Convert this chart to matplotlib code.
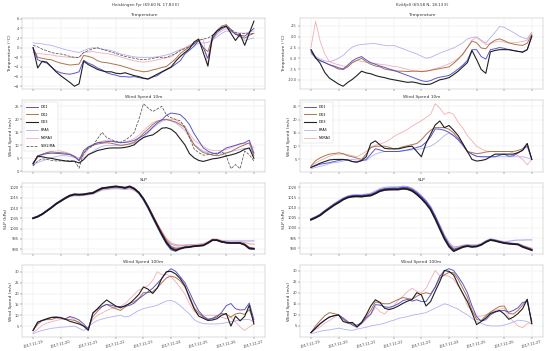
import pandas as pd
import matplotlib
matplotlib.use('Agg')
import matplotlib.pyplot as plt
import matplotlib.dates as mdates
from matplotlib.ticker import MultipleLocator, FormatStrFormatter

# 4-hourly time axis, 2017-11-19 00:00 to 2017-11-27 00:00
times = pd.date_range('2017-11-19', '2017-11-27', freq='4h')

station_names = ['Heiskingen Fyr (69.60 N, 17.83 E)', 'Kvitfjell (69.58 N, 18.13 E)']
panel_titles = ['Temperature', 'Wind Speed 10m', 'SLP', 'Wind Speed 100m']
y_labels = ['Temperature (°C)', 'Wind Speed (m/s)', 'SLP (hPa)', 'Wind Speed (m/s)']

# ---------------- Heiskingen Fyr ----------------
heis_temp_do1 = [0.0, -2.5, -2.9, -3.2, -4.0, -4.8,
                 -5.2, -5.4, -5.5, -5.3, -5.0, -2.6,
                 -3.2, -3.6, -4.2, -4.6, -5.2, -5.5,
                 -5.7, -6.0, -6.0, -6.1, -6.0, -6.2,
                 -6.4, -6.5, -6.1, -5.8, -5.1, -4.6,
                 -4.1, -3.4, -2.7, -1.3, -0.5, 0.3,
                 1.5, 0.0, -2.2, 1.8, 3.2, 3.9,
                 4.4, 3.6, 2.8, 2.6, 2.4, 3.2,
                 4.0]
heis_temp_do2 = [0.0, -2.0, -2.2, -2.4, -2.5, -2.9,
                 -3.2, -3.4, -3.6, -3.5, -3.4, -1.6,
                 -1.8, -2.1, -2.7, -3.0, -3.1, -3.3,
                 -3.5, -3.7, -4.0, -4.3, -4.6, -4.8,
                 -5.0, -4.9, -4.6, -4.4, -4.1, -3.9,
                 -3.1, -2.3, -1.2, -0.5, 0.2, 0.9,
                 1.5, 0.0, -0.8, 2.0, 3.6, 4.5,
                 4.8, 3.8, 2.8, 2.3, 2.0, 2.6,
                 3.0]
heis_temp_do3 = [0.0, -4.2, -2.8, -3.0, -4.0, -5.0,
                 -5.8, -6.5, -7.2, -8.0, -7.5, -2.8,
                 -3.5, -4.0, -4.5, -4.8, -5.0, -5.0,
                 -5.3, -5.4, -5.2, -5.5, -5.8, -6.0,
                 -6.3, -6.5, -6.0, -5.5, -5.0, -4.5,
                 -4.0, -2.8, -1.8, -1.0, -0.2, 1.2,
                 1.8, -1.0, -3.8, 2.5, 3.5, 4.2,
                 4.5, 3.0, 1.5, 2.8, 0.5, 3.0,
                 5.5]
heis_temp_era5 = [1.0, 0.9, 0.8, 0.6, 0.5, 0.2,
                  -0.1, -0.4, -0.6, -0.8, -1.0, -0.6,
                  -0.2, 0.0, -0.1, -0.3, -0.4, -0.6,
                  -0.9, -1.3, -1.5, -1.7, -1.9, -2.0,
                  -2.0, -2.0, -2.0, -1.9, -1.7, -1.5,
                  -1.2, -0.8, -0.4, -0.1, 0.3, 0.5,
                  0.9, 1.0, 1.1, 1.6, 2.3, 3.0,
                  3.5, 3.3, 3.1, 2.5, 1.5, 1.8,
                  2.0]
heis_temp_nora3 = [-1.0, -1.2, -1.3, -1.4, -1.5, -1.7,
                   -1.8, -1.9, -2.0, -2.0, -2.0, -1.0,
                   -0.9, -0.8, -1.0, -1.1, -1.2, -1.4,
                   -1.6, -1.9, -2.2, -2.5, -2.7, -2.9,
                   -3.0, -2.9, -2.7, -2.5, -2.3, -2.1,
                   -1.9, -1.2, -0.4, 0.0, 0.6, 1.0,
                   1.6, 1.8, -3.9, 1.6, 2.8, 3.5,
                   4.0, 3.4, 3.0, 3.1, 3.0, 3.3,
                   3.5]
heis_temp_seklima = [0.5, 0.2, -0.3, -0.6, -1.0, -1.2,
                     -1.3, -1.5, -1.8, -2.0, -2.0, -1.0,
                     -0.6, -0.2, 0.0, -0.3, -0.6, -0.9,
                     -1.2, -1.5, -1.8, -2.0, -2.2, -2.4,
                     -2.5, -2.4, -2.2, -2.0, -2.0, -2.0,
                     -1.6, -1.2, -0.6, -0.2, 0.2, 0.8,
                     1.5, 1.8, 2.0, 2.6, 3.5, 4.2,
                     4.5, 3.8, 3.2, 2.9, 3.0, 2.8,
                     3.0]

heis_ws10_do1 = [2.5, 6.0, 6.5, 6.8, 7.0, 6.9,
                 6.8, 6.6, 6.5, 5.6, 4.2, 8.0,
                 9.4, 10.2, 11.0, 11.2, 11.4, 11.6,
                 11.3, 11.0, 11.1, 11.4, 11.9, 12.8,
                 13.8, 15.2, 17.0, 18.6, 19.8, 21.6,
                 22.4, 22.2, 21.8, 20.2, 18.0, 14.5,
                 11.8, 9.0, 7.8, 7.0, 6.6, 7.8,
                 9.0, 9.5, 10.0, 10.6, 11.0, 12.0,
                 7.0]
heis_ws10_do2 = [3.0, 5.8, 6.6, 7.2, 7.5, 7.3,
                 7.2, 7.0, 6.5, 5.8, 4.0, 7.0,
                 9.2, 10.0, 10.5, 10.8, 11.0, 10.8,
                 10.4, 10.0, 10.2, 10.6, 11.2, 12.8,
                 14.6, 16.2, 18.0, 19.2, 19.8, 20.0,
                 19.5, 19.0, 18.0, 16.8, 13.5, 10.2,
                 8.5, 7.2, 6.8, 6.2, 6.0, 6.4,
                 7.0, 7.6, 8.6, 9.5, 10.2, 11.0,
                 6.0]
heis_ws10_do3 = [3.0, 5.8, 5.6, 5.2, 5.0, 4.6,
                 4.3, 4.0, 3.8, 3.9, 3.2, 4.5,
                 6.4, 7.2, 8.0, 8.4, 8.8, 9.0,
                 9.0, 9.0, 9.2, 9.6, 10.2, 11.8,
                 13.0, 13.6, 14.0, 15.2, 16.6, 16.8,
                 16.2, 14.8, 12.5, 10.2, 6.8, 5.2,
                 4.2, 3.8, 4.3, 4.8, 5.0, 5.4,
                 5.9, 6.3, 6.8, 7.5, 8.5, 9.0,
                 5.0]
heis_ws10_era5 = [2.5, 3.4, 4.0, 4.6, 5.2, 5.7,
                  6.0, 6.0, 5.8, 5.3, 5.0, 5.2,
                  6.4, 7.6, 8.8, 9.6, 10.0, 10.0,
                  10.0, 10.0, 10.2, 10.4, 10.8, 11.8,
                  13.0, 14.8, 16.6, 18.0, 19.2, 19.8,
                  19.4, 18.6, 17.2, 15.8, 13.0, 10.4,
                  9.0, 7.8, 7.2, 7.0, 7.0, 7.0,
                  7.2, 7.6, 8.0, 8.4, 8.8, 8.6,
                  7.0]
heis_ws10_nora3 = [3.5, 5.0, 6.2, 7.2, 7.8, 8.0,
                   7.8, 7.4, 6.8, 5.8, 5.2, 6.0,
                   8.6, 10.2, 11.0, 11.6, 12.0, 11.6,
                   11.2, 11.0, 11.4, 11.8, 12.6, 13.8,
                   15.6, 17.2, 18.8, 19.4, 19.8, 20.0,
                   20.0, 19.8, 18.6, 17.4, 14.5, 12.0,
                   10.8, 9.6, 8.6, 8.0, 8.0, 8.0,
                   8.4, 9.0, 9.8, 10.4, 10.8, 10.6,
                   9.0]
heis_ws10_seklima = [2.0, 4.0, 4.8, 4.6, 4.2, 4.0,
                     4.0, 4.0, 4.1, 4.0, 1.2, 7.0,
                     8.8, 9.8, 12.5, 15.0, 13.0, 12.2,
                     11.6, 11.2, 12.0, 13.2, 15.0, 20.0,
                     26.0, 24.4, 23.0, 24.0, 25.0, 21.6,
                     20.6, 20.0, 19.4, 17.0, 13.0, 8.6,
                     7.2, 6.2, 6.4, 6.6, 7.0, 7.6,
                     6.0, 1.0, 2.6, 1.0, 7.8, 6.4,
                     4.0]

heis_slp_do1 = [1005.2, 1006.0, 1007.2, 1008.8, 1010.4, 1012.2,
                1013.6, 1015.0, 1016.2, 1016.8, 1016.6, 1016.8,
                1017.2, 1017.5, 1018.7, 1019.8, 1020.0, 1020.4,
                1020.6, 1020.3, 1020.0, 1020.6, 1019.6, 1017.2,
                1014.0, 1010.0, 1005.4, 1001.0, 996.6, 992.6,
                989.8, 989.0, 990.4, 991.0, 991.2, 991.5,
                991.7, 991.9, 993.1, 994.5, 994.3, 993.5,
                993.1, 992.9, 993.0, 992.9, 992.0, 990.2,
                990.0]
heis_slp_do2 = [1005.0, 1005.7, 1006.9, 1008.5, 1010.1, 1011.9,
                1013.3, 1014.7, 1015.9, 1016.5, 1016.4, 1016.5,
                1016.9, 1017.2, 1018.4, 1019.4, 1019.8, 1020.0,
                1020.3, 1020.0, 1019.6, 1020.2, 1019.2, 1017.4,
                1014.6, 1010.8, 1006.4, 1002.0, 997.8, 994.0,
                991.2, 990.4, 990.6, 991.0, 991.2, 991.5,
                991.7, 991.9, 993.0, 994.3, 994.3, 993.5,
                993.2, 993.0, 993.0, 993.0, 992.4, 990.8,
                990.4]
heis_slp_do3 = [1005.0, 1005.8, 1007.0, 1008.6, 1010.2, 1012.0,
                1013.4, 1014.8, 1016.0, 1016.6, 1016.5, 1016.6,
                1017.0, 1017.3, 1018.5, 1019.6, 1019.9, 1020.2,
                1020.5, 1020.2, 1019.8, 1020.5, 1019.4, 1017.6,
                1014.5, 1010.5, 1006.0, 1001.5, 997.2, 993.2,
                990.5, 989.5, 990.2, 990.8, 991.0, 991.4,
                991.6, 991.8, 993.0, 994.4, 994.4, 993.6,
                993.2, 993.0, 993.0, 993.0, 992.2, 990.4,
                990.2]
heis_slp_era5 = [1005.0, 1005.8, 1007.0, 1008.6, 1010.2, 1011.8,
                 1013.2, 1014.5, 1015.6, 1016.0, 1016.0, 1016.2,
                 1016.5, 1016.8, 1017.8, 1018.8, 1019.0, 1019.3,
                 1019.5, 1019.3, 1019.0, 1019.4, 1018.6, 1017.0,
                 1014.2, 1010.6, 1006.4, 1002.2, 998.2, 994.6,
                 992.4, 991.6, 991.6, 991.8, 992.0, 992.0,
                 992.2, 992.4, 993.4, 994.6, 994.6, 994.2,
                 994.0, 994.0, 994.0, 994.0, 994.0, 994.0,
                 994.0]
heis_slp_nora3 = [1005.0, 1005.9, 1007.1, 1008.7, 1010.3, 1012.0,
                  1013.4, 1014.7, 1015.8, 1016.3, 1016.2, 1016.4,
                  1016.8, 1017.1, 1018.2, 1019.2, 1019.5, 1019.8,
                  1020.0, 1019.8, 1019.5, 1019.9, 1019.0, 1017.2,
                  1014.4, 1010.8, 1006.6, 1002.4, 998.6, 995.2,
                  993.0, 992.2, 992.0, 992.0, 992.2, 992.2,
                  992.4, 992.6, 993.6, 995.0, 994.8, 994.0,
                  993.6, 993.4, 993.4, 993.6, 993.2, 992.6,
                  992.4]

heis_ws100_do1 = [3.0, 6.8, 7.6, 8.2, 9.0, 9.3,
                  9.0, 8.3, 9.4, 8.8, 7.8, 6.0,
                  3.5, 11.0, 12.8, 14.0, 15.0, 14.6,
                  14.0, 14.0, 14.0, 14.6, 15.6, 17.6,
                  19.2, 20.8, 22.4, 24.6, 27.0, 29.8,
                  31.4, 30.2, 27.6, 25.0, 20.6, 16.0,
                  12.0, 9.6, 8.2, 8.4, 9.2, 11.4,
                  14.4, 15.4, 13.0, 12.4, 12.6, 15.6,
                  8.0]
heis_ws100_do2 = [3.0, 5.8, 7.6, 8.0, 8.0, 8.8,
                  8.8, 8.0, 8.0, 7.6, 6.8, 5.0,
                  4.0, 9.4, 11.8, 14.0, 15.0, 13.8,
                  13.0, 12.2, 13.8, 15.6, 16.2, 17.8,
                  20.4, 20.4, 20.8, 22.6, 25.0, 27.2,
                  28.0, 27.4, 25.8, 23.0, 18.8, 13.6,
                  11.0, 9.0, 8.0, 8.6, 9.8, 10.8,
                  10.4, 9.2, 10.6, 11.0, 10.4, 12.6,
                  7.0]
heis_ws100_do3 = [3.0, 6.8, 7.6, 8.4, 9.0, 9.0,
                  8.8, 8.2, 7.2, 6.6, 6.0, 5.0,
                  3.0, 11.0, 13.0, 15.2, 17.0, 15.6,
                  14.2, 13.4, 14.4, 15.4, 17.4, 19.6,
                  23.0, 22.0, 20.0, 22.5, 27.0, 30.0,
                  30.2, 29.0, 26.8, 23.6, 18.0, 13.0,
                  9.6, 8.6, 7.6, 7.8, 8.4, 10.0,
                  10.8, 5.0, 9.6, 7.4, 9.5, 14.6,
                  6.0]
heis_ws100_era5 = [1.5, 2.4, 3.0, 3.5, 4.0, 4.2,
                   4.5, 4.6, 4.8, 5.0, 4.0, 3.0,
                   4.6, 6.4, 7.6, 8.2, 8.8, 9.2,
                   9.6, 10.0, 9.2, 9.6, 11.0, 12.2,
                   13.0, 13.6, 14.0, 14.6, 15.6, 16.6,
                   16.8, 16.0, 14.4, 12.4, 10.6, 8.0,
                   6.8, 6.2, 6.0, 6.0, 6.0, 6.2,
                   6.6, 7.0, 7.4, 7.8, 8.0, 8.0,
                   7.0]
heis_ws100_nora3 = [2.0, 3.6, 5.4, 6.4, 7.0, 7.6,
                    8.0, 8.4, 9.0, 8.0, 6.4, 5.0,
                    4.2, 8.0, 10.0, 11.0, 12.2, 13.0,
                    13.6, 14.0, 15.4, 17.4, 19.6, 21.6,
                    22.6, 23.6, 26.0, 30.0, 28.6, 28.8,
                    27.6, 25.4, 22.6, 19.8, 15.2, 11.8,
                    10.4, 10.0, 10.0, 10.0, 10.0, 9.0,
                    8.4, 9.0, 7.0, 4.6, 3.0, 4.6,
                    6.0]

# ---------------- Kvitfjell ----------------
kvit_temp_do1 = [-3.5, -5.0, -5.6, -6.0, -6.5, -6.8,
                 -7.2, -7.5, -6.6, -5.6, -5.0, -4.6,
                 -5.4, -6.0, -6.4, -6.8, -7.1, -7.5,
                 -7.8, -8.2, -8.6, -9.0, -9.4, -9.8,
                 -10.2, -10.4, -10.2, -9.7, -9.4, -9.2,
                 -9.0, -8.3, -7.5, -6.6, -5.5, -3.0,
                 -3.0, -4.6, -5.2, -3.0, -2.8, -2.5,
                 -2.7, -3.0, -3.2, -3.4, -3.5, -3.0,
                 0.0]
kvit_temp_do2 = [-3.0, -5.0, -5.5, -6.0, -6.5, -7.0,
                 -7.5, -7.6, -7.0, -6.0, -5.5, -5.0,
                 -5.8, -6.4, -6.8, -7.0, -7.5, -7.7,
                 -7.9, -8.0, -8.0, -8.1, -8.0, -8.0,
                 -8.1, -8.0, -7.8, -7.6, -7.4, -7.2,
                 -7.0, -6.2, -5.2, -4.0, -2.5, -1.0,
                 -1.4, -2.6, -2.8, -1.5, -0.8, -0.5,
                 -0.9, -1.4, -1.7, -1.9, -2.0, -1.5,
                 0.5]
kvit_temp_do3 = [-3.0, -4.8, -6.2, -8.3, -9.6, -10.3,
                 -11.0, -11.5, -10.6, -9.9, -9.0, -8.0,
                 -8.4, -8.6, -9.0, -9.3, -9.5, -9.8,
                 -10.0, -10.2, -10.4, -10.6, -10.5, -10.7,
                 -11.0, -11.1, -11.0, -10.5, -10.0, -9.8,
                 -9.5, -8.8, -8.0, -7.0, -6.0, -3.2,
                 -5.3, -7.6, -8.5, -3.5, -3.2, -3.0,
                 -3.0, -3.0, -3.2, -3.4, -3.6, -3.0,
                 0.2]
kvit_temp_era5 = [-4.0, -4.6, -5.2, -5.6, -5.8, -5.5,
                  -5.0, -4.3, -3.3, -2.4, -2.0, -1.8,
                  -1.7, -1.6, -1.6, -1.8, -2.0, -2.1,
                  -2.0, -2.4, -2.8, -3.2, -3.6, -4.0,
                  -4.5, -5.0, -4.8, -4.3, -3.8, -3.4,
                  -3.0, -2.6, -2.0, -1.4, -0.5, -0.2,
                  0.0, -0.8, -1.5, -0.2, 1.0, 2.4,
                  2.2, 1.6, 1.0, 0.3, -0.2, -0.5,
                  1.0]
kvit_temp_nora3 = [-2.5, 3.6, -1.0, -4.0, -5.8, -6.2,
                   -6.5, -6.8, -7.0, -6.0, -5.5, -5.7,
                   -5.9, -6.1, -6.2, -6.4, -6.5, -6.7,
                   -6.9, -7.0, -7.3, -7.6, -7.9, -8.0,
                   -8.0, -8.0, -7.8, -7.4, -7.1, -6.7,
                   -6.3, -5.8, -5.0, -4.2, -2.5, -0.8,
                   -0.2, -1.0, -1.8, -1.6, -1.2, -1.0,
                   -1.2, -1.5, -1.4, -1.3, -1.1, -0.8,
                   1.0]

kvit_ws10_do1 = [2.0, 2.6, 3.2, 3.5, 3.8, 4.2,
                 4.6, 4.9, 4.8, 4.2, 4.0, 4.5,
                 5.0, 7.0, 9.0, 8.6, 8.0, 8.0,
                 8.0, 8.0, 8.3, 8.6, 9.0, 9.5,
                 10.0, 11.5, 13.5, 16.5, 16.4, 16.0,
                 15.2, 14.0, 12.5, 10.5, 8.0, 7.0,
                 6.2, 6.0, 6.0, 6.0, 6.0, 6.6,
                 7.0, 6.2, 6.4, 7.4, 8.6, 10.0,
                 5.0]
kvit_ws10_do2 = [2.5, 4.5, 5.6, 6.4, 7.0, 7.2,
                 7.5, 7.2, 6.4, 6.0, 5.5, 5.0,
                 7.0, 9.5, 10.0, 10.0, 10.0, 9.6,
                 9.0, 9.2, 9.8, 10.2, 10.6, 11.0,
                 12.4, 14.4, 16.0, 17.0, 17.0, 17.0,
                 16.4, 15.0, 13.0, 10.8, 8.0, 7.6,
                 7.2, 7.4, 7.8, 8.0, 8.0, 8.0,
                 8.0, 8.0, 8.0, 8.4, 9.0, 11.0,
                 5.0]
kvit_ws10_do3 = [2.0, 2.8, 3.6, 4.2, 4.8, 5.0,
                 5.0, 5.0, 4.8, 4.2, 4.0, 4.6,
                 6.0, 11.0, 12.0, 10.5, 9.2, 9.0,
                 9.0, 9.0, 9.4, 9.8, 10.0, 8.0,
                 6.0, 11.0, 14.5, 18.0, 19.5, 17.0,
                 17.8, 16.0, 14.0, 11.0, 8.0, 5.0,
                 4.4, 4.6, 5.0, 6.0, 7.0, 7.0,
                 7.0, 7.0, 7.0, 7.6, 8.4, 11.0,
                 5.0]
kvit_ws10_era5 = [1.5, 2.0, 2.4, 2.8, 3.4, 3.8,
                  4.0, 4.4, 4.8, 5.0, 4.8, 4.6,
                  4.5, 6.0, 7.0, 7.6, 8.0, 8.0,
                  8.0, 8.0, 8.2, 8.4, 8.6, 8.8,
                  9.0, 9.5, 10.0, 11.0, 12.4, 14.0,
                  15.0, 14.0, 12.2, 10.0, 8.0, 7.0,
                  6.2, 6.0, 6.0, 6.0, 6.0, 6.0,
                  6.0, 6.0, 6.0, 6.0, 6.0, 5.6,
                  5.0]
kvit_ws10_nora3 = [2.5, 3.6, 4.6, 5.4, 6.2, 6.8,
                   7.0, 7.0, 6.8, 6.4, 6.0, 7.0,
                   8.0, 9.6, 10.4, 10.8, 11.4, 12.4,
                   13.6, 14.6, 15.4, 16.4, 17.6, 18.6,
                   19.6, 20.8, 22.0, 26.0, 24.4, 22.0,
                   22.8, 22.0, 19.0, 16.8, 14.0, 12.0,
                   10.0, 9.0, 8.2, 8.0, 8.0, 8.0,
                   8.0, 8.0, 7.4, 6.4, 5.0, 3.0,
                   5.0]

kvit_slp_do1 = [1004.4, 1005.4, 1006.6, 1008.4, 1010.0, 1011.6,
                1013.0, 1014.4, 1015.4, 1015.9, 1016.0, 1015.9,
                1016.2, 1016.5, 1017.5, 1018.7, 1019.3, 1019.5,
                1019.6, 1019.6, 1020.0, 1019.9, 1019.0, 1017.4,
                1015.4, 1013.0, 1010.0, 1005.6, 1000.6, 995.6,
                991.6, 989.2, 989.8, 990.8, 991.2, 990.9,
                991.0, 991.8, 993.2, 994.2, 993.8, 993.2,
                992.7, 992.4, 992.2, 992.0, 991.0, 990.2,
                989.4]
kvit_slp_do2 = [1004.2, 1005.1, 1006.3, 1008.0, 1009.6, 1011.2,
                1012.6, 1014.0, 1015.0, 1015.4, 1015.5, 1015.4,
                1015.7, 1016.0, 1017.0, 1018.1, 1018.6, 1018.8,
                1018.9, 1018.9, 1019.2, 1019.0, 1018.2, 1016.6,
                1014.6, 1012.2, 1009.2, 1004.8, 1000.0, 995.2,
                991.4, 989.4, 990.0, 990.8, 991.2, 990.8,
                991.0, 991.8, 993.2, 994.2, 993.8, 993.2,
                992.6, 992.3, 992.1, 991.9, 990.8, 990.0,
                989.2]
kvit_slp_do3 = [1004.0, 1005.0, 1006.2, 1008.0, 1009.6, 1011.2,
                1012.5, 1014.0, 1015.0, 1015.5, 1015.6, 1015.5,
                1015.8, 1016.0, 1017.0, 1018.2, 1018.8, 1019.0,
                1019.0, 1019.0, 1019.4, 1019.2, 1018.3, 1016.6,
                1014.5, 1012.0, 1009.0, 1004.5, 999.5, 994.6,
                990.8, 988.5, 989.5, 990.5, 991.0, 990.6,
                990.8, 991.6, 993.0, 994.0, 993.6, 993.0,
                992.5, 992.2, 992.0, 991.8, 990.6, 989.8,
                989.0]
kvit_slp_era5 = [1004.5, 1005.5, 1006.8, 1008.6, 1010.3, 1012.0,
                 1013.4, 1014.8, 1015.8, 1016.3, 1016.4, 1016.4,
                 1016.7, 1017.1, 1018.2, 1019.4, 1020.0, 1020.2,
                 1020.2, 1020.3, 1020.6, 1020.4, 1019.6, 1018.0,
                 1016.0, 1013.6, 1010.6, 1006.2, 1001.4, 996.6,
                 992.8, 990.6, 990.8, 991.4, 991.8, 991.6,
                 991.6, 992.2, 993.6, 994.6, 994.2, 993.6,
                 993.2, 993.4, 993.8, 994.0, 994.0, 994.1,
                 994.1]
kvit_slp_nora3 = [1004.0, 1005.0, 1006.4, 1008.2, 1009.9, 1011.6,
                  1013.0, 1014.4, 1015.3, 1015.8, 1015.9, 1015.8,
                  1016.1, 1016.4, 1017.4, 1018.6, 1019.2, 1019.4,
                  1019.5, 1019.5, 1019.8, 1019.6, 1018.8, 1017.2,
                  1015.2, 1012.8, 1010.0, 1005.6, 1000.8, 996.0,
                  992.0, 990.0, 990.4, 991.2, 991.6, 991.2,
                  991.4, 992.0, 993.4, 994.4, 994.0, 993.4,
                  993.0, 992.6, 992.4, 992.2, 991.4, 990.6,
                  990.0]

kvit_ws100_do1 = [2.0, 4.0, 6.0, 7.6, 9.0, 9.6,
                  10.0, 8.6, 7.0, 5.4, 4.4, 6.2,
                  8.6, 10.4, 14.6, 14.4, 13.6, 13.4,
                  14.0, 15.0, 16.4, 17.0, 16.2, 16.8,
                  16.0, 16.0, 19.0, 22.6, 27.4, 30.0,
                  30.8, 30.0, 27.2, 24.0, 20.0, 14.0,
                  9.2, 7.2, 7.8, 10.0, 11.2, 11.8,
                  12.0, 11.2, 12.0, 13.2, 15.6, 16.0,
                  7.0]
kvit_ws100_do2 = [2.0, 5.0, 7.4, 9.6, 11.0, 10.6,
                  10.0, 8.0, 6.4, 6.0, 5.4, 6.6,
                  9.2, 12.0, 15.8, 15.4, 15.0, 15.0,
                  16.0, 17.0, 17.8, 17.4, 17.0, 18.4,
                  19.4, 20.0, 19.4, 22.4, 26.6, 28.0,
                  29.2, 29.0, 26.0, 22.0, 18.0, 12.0,
                  8.0, 7.4, 9.6, 11.2, 12.6, 13.8,
                  14.0, 10.6, 10.4, 12.0, 14.4, 17.0,
                  6.0]
kvit_ws100_do3 = [2.0, 4.0, 6.0, 7.6, 9.0, 9.6,
                  10.0, 7.0, 6.4, 6.6, 4.6, 6.6,
                  10.0, 14.0, 16.8, 15.6, 13.0, 12.4,
                  13.0, 14.0, 15.2, 16.2, 17.0, 20.0,
                  19.0, 14.0, 16.0, 20.6, 25.0, 30.0,
                  29.6, 28.0, 23.6, 19.6, 16.0, 11.0,
                  5.6, 7.0, 8.6, 10.6, 11.4, 12.0,
                  10.4, 8.0, 9.0, 10.6, 12.8, 17.0,
                  6.0]
kvit_ws100_era5 = [1.5, 2.0, 2.6, 3.0, 3.2, 3.6,
                   4.0, 3.6, 3.2, 3.0, 3.6, 4.0,
                   4.4, 5.0, 5.4, 5.8, 6.2, 7.0,
                   7.6, 8.4, 8.8, 9.2, 9.8, 10.2,
                   10.6, 11.0, 12.0, 13.0, 14.0, 15.0,
                   14.4, 13.4, 12.6, 11.2, 10.0, 8.4,
                   7.0, 6.2, 5.4, 5.0, 5.0, 5.0,
                   5.4, 6.0, 6.8, 7.6, 7.4, 7.0,
                   6.0]
kvit_ws100_nora3 = [2.0, 3.4, 4.6, 6.2, 7.4, 8.8,
                    10.0, 8.0, 6.2, 5.6, 5.0, 6.0,
                    8.0, 10.0, 13.6, 11.4, 10.4, 12.6,
                    14.0, 16.6, 18.4, 20.6, 22.0, 20.6,
                    20.0, 22.0, 26.0, 30.0, 27.6, 27.8,
                    27.4, 26.0, 23.0, 20.0, 14.0, 12.0,
                    9.4, 9.4, 10.0, 11.0, 12.0, 12.6,
                    13.0, 9.0, 7.0, 5.0, 4.2, 6.0,
                    6.0]

# panels: [row][col] -> list of (label, values)
panels = [
    [[('DO1', heis_temp_do1), ('DO2', heis_temp_do2), ('DO3', heis_temp_do3),
      ('ERA5', heis_temp_era5), ('NORA3', heis_temp_nora3), ('SEKLIMA', heis_temp_seklima)],
     [('DO1', kvit_temp_do1), ('DO2', kvit_temp_do2), ('DO3', kvit_temp_do3),
      ('ERA5', kvit_temp_era5), ('NORA3', kvit_temp_nora3)]],
    [[('DO1', heis_ws10_do1), ('DO2', heis_ws10_do2), ('DO3', heis_ws10_do3),
      ('ERA5', heis_ws10_era5), ('NORA3', heis_ws10_nora3), ('SEKLIMA', heis_ws10_seklima)],
     [('DO1', kvit_ws10_do1), ('DO2', kvit_ws10_do2), ('DO3', kvit_ws10_do3),
      ('ERA5', kvit_ws10_era5), ('NORA3', kvit_ws10_nora3)]],
    [[('DO1', heis_slp_do1), ('DO2', heis_slp_do2), ('DO3', heis_slp_do3),
      ('ERA5', heis_slp_era5), ('NORA3', heis_slp_nora3)],
     [('DO1', kvit_slp_do1), ('DO2', kvit_slp_do2), ('DO3', kvit_slp_do3),
      ('ERA5', kvit_slp_era5), ('NORA3', kvit_slp_nora3)]],
    [[('DO1', heis_ws100_do1), ('DO2', heis_ws100_do2), ('DO3', heis_ws100_do3),
      ('ERA5', heis_ws100_era5), ('NORA3', heis_ws100_nora3)],
     [('DO1', kvit_ws100_do1), ('DO2', kvit_ws100_do2), ('DO3', kvit_ws100_do3),
      ('ERA5', kvit_ws100_era5), ('NORA3', kvit_ws100_nora3)]],
]

styles = {
    'DO1': dict(color='#4646c8', lw=0.7, alpha=0.9, zorder=4),
    'DO2': dict(color='#a8643c', lw=0.7, alpha=0.9, zorder=3),
    'DO3': dict(color='#151515', lw=0.8, alpha=0.95, zorder=5),
    'ERA5': dict(color='#a4a4f0', lw=0.6, alpha=0.85, zorder=2),
    'NORA3': dict(color='#f0a0a8', lw=0.6, alpha=0.85, zorder=2),
    'SEKLIMA': dict(color='#555555', lw=0.55, ls='--', zorder=3),
}

fs_tick = 2.6
fs_lab = 3.2
fig, axes = plt.subplots(4, 2, figsize=(5.5, 3.51), dpi=100, sharex=True)
fig.subplots_adjust(left=0.04, right=0.987, top=0.9487, bottom=0.04,
                    hspace=0.154, wspace=0.144)

for r in range(4):
    for c in range(2):
        ax = axes[r][c]
        for label, vals in panels[r][c]:
            st = dict(styles[label])
            if r == 2:
                st['lw'] = st['lw'] * 1.5
            ax.plot(times, vals, label=label, **st)
        ax.set_title(panel_titles[r], fontsize=fs_lab, pad=1.5, color='#333333')
        ax.set_ylabel(y_labels[r], fontsize=fs_lab, labelpad=1.2, color='#333333')
        ax.grid(True, color='#e6e6e6', lw=0.3)
        ax.tick_params(labelsize=fs_tick, length=1.2, width=0.3, pad=1,
                       colors='#444444')
        for sp in ax.spines.values():
            sp.set_linewidth(0.3)
            sp.set_color('#aaaaaa')
        if r == 1:
            leg = ax.legend(loc='upper left', fontsize=2.4, handlelength=3.5,
                            borderpad=0.8, labelspacing=1.15, framealpha=0.9)
            leg.get_frame().set_linewidth(0.3)

# Kvitfjell temperature ticks every 2.5 degrees
axes[0][1].yaxis.set_major_locator(MultipleLocator(2.5))
axes[0][1].yaxis.set_major_formatter(FormatStrFormatter('%.1f'))

for c in range(2):
    ax = axes[3][c]
    ax.xaxis.set_major_locator(mdates.DayLocator())
    ax.xaxis.set_major_formatter(mdates.DateFormatter('%Y-%m-%d'))
    for lab in ax.get_xticklabels():
        lab.set_rotation(15)

fig.text(0.264, 0.985, station_names[0], fontsize=2.9, ha='center', va='center',
         color='#333333')
fig.text(0.767, 0.985, station_names[1], fontsize=2.9, ha='center', va='center',
         color='#333333')

fig.savefig('out.png', dpi=100)
